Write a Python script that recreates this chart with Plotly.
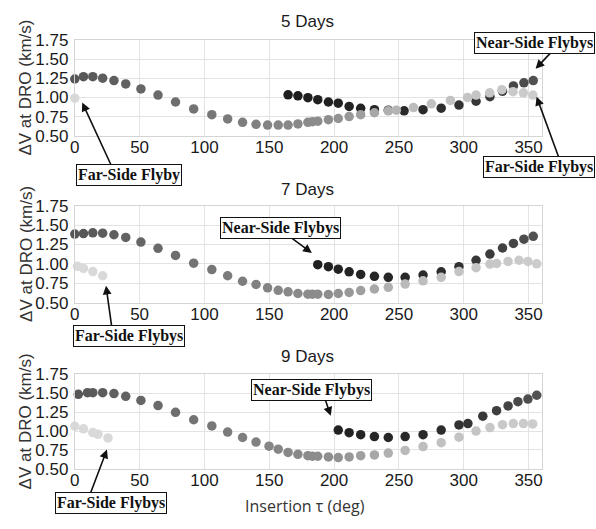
import plotly.graph_objects as go

W, H = 596, 529

# ---------------- data (tau in deg, dV in km/s) ----------------
tau_main = [0, 6.7, 13.9, 21.5, 30.2, 39.3, 51, 64.2, 77.7, 91.7, 105.7, 117.9,
            129.4, 139.8, 148.7, 156.9, 164.5]

# 5 days
d5_primary_tau = tau_main + [172.1, 179.8, 183.3, 187.4, 195.6, 203.2, 211.6, 220.5,
                             231.1, 241.8, 248, 261.2, 275, 289.7, 302.9, 309.5, 320,
                             329.4, 338, 346, 353.3]
d5_primary_dv = [1.24, 1.27, 1.27, 1.25, 1.22, 1.175, 1.11, 1.03, 0.94, 0.85, 0.775,
                 0.72, 0.675, 0.65, 0.64, 0.64, 0.64,
                 0.655, 0.675, 0.683, 0.69, 0.71, 0.725, 0.75, 0.775, 0.80, 0.825,
                 0.833, 0.867, 0.917, 0.96, 1.0, 1.03, 1.06, 1.10, 1.075, 1.06, 1.03]
d5_near_tau = [164.5, 172.1, 179.8, 187.4, 195.6, 203.2, 211.6, 220.5, 231.1, 241.8,
               254, 268.6, 282.6, 296.3, 309.5, 320.2, 329.9, 338.3, 346.4, 353.6]
d5_near_dv = [1.033, 1.02, 0.996, 0.97, 0.94, 0.925, 0.883, 0.858, 0.84, 0.833,
              0.825, 0.84, 0.86, 0.90, 0.95, 1.01, 1.08, 1.15, 1.19, 1.22]
d5_far_tau = [0]
d5_far_dv = [0.99]

# 7 days
d7_primary_tau = tau_main + [172.1, 179.8, 183.3, 187.4, 195.6, 203.2, 211.6, 220.5,
                             231.1, 241.8, 254.8, 268.6, 282.6, 296.3, 309.5, 320.2,
                             325.3, 334.2, 342.6, 349.5, 356.3]
d7_primary_dv = [1.383, 1.39, 1.40, 1.395, 1.375, 1.34, 1.28, 1.20, 1.108, 1.008, 0.925,
                 0.846, 0.775, 0.733, 0.69, 0.658, 0.638,
                 0.617, 0.608, 0.608, 0.608, 0.604, 0.617, 0.63, 0.654, 0.675, 0.696,
                 0.738, 0.78, 0.825, 0.90, 0.95, 0.996, 1.004, 1.03, 1.046, 1.03, 1.0]
d7_near_tau = [187.4, 195.6, 203.2, 211.6, 220.5, 231.1, 241.8, 254.8, 268.6, 282.6,
               296.3, 309.5, 320.2, 329.9, 338.3, 346.4, 353.6]
d7_near_dv = [0.988, 0.963, 0.93, 0.896, 0.863, 0.838, 0.825, 0.825, 0.854, 0.896,
              0.963, 1.046, 1.125, 1.204, 1.263, 1.317, 1.354]
d7_far_tau = [2.1, 6.7, 13.9, 21.5]
d7_far_dv = [0.967, 0.94, 0.90, 0.846]

# 9 days
d9_primary_tau = [2.7, 9.8, 13.9, 21.5, 30.2, 39.3, 51, 64.2, 77.7, 91.7, 105.7, 117.9,
                  129.4, 139.8, 149.8, 156.9, 164.5,
                  172.1, 179.8, 183.3, 187.4, 195.6, 203.2, 211.6, 220.5, 231.1, 241.8,
                  254.8, 268.6, 282.6, 296.3, 309.5, 320.2, 329.9, 338.2, 346, 353.2]
d9_primary_dv = [1.487, 1.508, 1.508, 1.508, 1.496, 1.46, 1.406, 1.338, 1.248, 1.15,
                 1.068, 0.987, 0.915, 0.855, 0.80, 0.76, 0.718,
                 0.692, 0.675, 0.667, 0.667, 0.658, 0.65, 0.658, 0.675, 0.684, 0.709,
                 0.744, 0.795, 0.846, 0.919, 1.0, 1.047, 1.085, 1.10, 1.10, 1.094]
d9_near_tau = [203.2, 211.6, 220.5, 231.1, 241.8, 254.8, 268.6, 282.6, 296.3, 303.2,
               314.7, 325.3, 334.2, 341.8, 349.5, 356.3]
d9_near_dv = [1.013, 0.979, 0.953, 0.927, 0.915, 0.927, 0.953, 1.013, 1.081, 1.10,
              1.197, 1.27, 1.333, 1.389, 1.423, 1.474]
d9_far_tau = [0, 6.7, 13.9, 17.9, 25.6]
d9_far_dv = [1.064, 1.03, 0.98, 0.957, 0.91]

panel_titles = ["5 Days", "7 Days", "9 Days"]
x_ticks = [0, 50, 100, 150, 200, 250, 300, 350]
y_ticks = [0.50, 0.75, 1.00, 1.25, 1.50, 1.75]

panels = [
    (d5_primary_tau, d5_primary_dv, d5_near_tau, d5_near_dv, d5_far_tau, d5_far_dv),
    (d7_primary_tau, d7_primary_dv, d7_near_tau, d7_near_dv, d7_far_tau, d7_far_dv),
    (d9_primary_tau, d9_primary_dv, d9_near_tau, d9_near_dv, d9_far_tau, d9_far_dv),
]

# ---------------- layout geometry (pixels) ----------------
px_left, px_right = 70.5, 542
panel_px = [(32, 131.5), (204, 304.5), (379, 477)]   # (top, bottom)


def px(xp):
    return xp / W


def py(yp):
    return 1 - yp / H


primary_scale = [[0, "#565656"], [0.42, "#858585"], [0.55, "#8e8e8e"],
                 [0.63, "#a4a4a4"], [0.72, "#bdbdbd"], [1, "#cdcdcd"]]
near_scale = [[0, "#1c1c1c"], [0.6, "#2c2c2c"], [0.8, "#3a3a3a"], [1, "#555555"]]

fig = go.Figure()
layout = dict(
    width=W, height=H, margin=dict(l=0, r=0, t=0, b=0),
    paper_bgcolor="white", plot_bgcolor="white", showlegend=False,
    annotations=[],
)

tick_font = dict(family="Liberation Sans, Arial", size=17, color="#1a1a1a")

for i, (pt, pv, nt, nv, ft, fv) in enumerate(panels):
    n = i + 1
    xa = "x" if n == 1 else f"x{n}"
    ya = "y" if n == 1 else f"y{n}"
    top, bot = panel_px[i]

    fig.add_trace(go.Scatter(
        x=nt, y=nv, xaxis=xa, yaxis=ya, mode="markers", cliponaxis=False,
        marker=dict(size=9.5, color=nt, colorscale=near_scale, cmin=160, cmax=360,
                    line=dict(width=0))))
    fig.add_trace(go.Scatter(
        x=pt, y=pv, xaxis=xa, yaxis=ya, mode="markers", cliponaxis=False,
        marker=dict(size=9.5, color=pt, colorscale=primary_scale, cmin=0, cmax=360,
                    line=dict(width=0))))
    fig.add_trace(go.Scatter(
        x=ft, y=fv, xaxis=xa, yaxis=ya, mode="markers", cliponaxis=False,
        marker=dict(size=9.5, color="#d9d9d9", line=dict(width=0))))

    axkey = "xaxis" if n == 1 else f"xaxis{n}"
    aykey = "yaxis" if n == 1 else f"yaxis{n}"
    layout[axkey] = dict(
        domain=[px(px_left), px(px_right)], anchor=ya, range=[0, 360],
        tickvals=x_ticks, ticktext=[str(v) for v in x_ticks],
        showgrid=True, gridcolor="#e3e3e3", gridwidth=1, zeroline=False,
        showline=True, linecolor="#d4d4d4", linewidth=1, mirror=True,
        ticks="", tickfont=tick_font, ticklabelstandoff=-4,
    )
    layout[aykey] = dict(
        domain=[py(bot), py(top)], anchor=xa, range=[0.5, 1.75],
        tickvals=y_ticks, ticktext=[f"{v:.2f}" for v in y_ticks],
        showgrid=True, gridcolor="#e3e3e3", gridwidth=1, zeroline=False,
        showline=True, linecolor="#d4d4d4", linewidth=1, mirror=True,
        ticks="", tickfont=tick_font, ticklabelstandoff=2,
    )
    # panel title
    layout["annotations"].append(dict(
        text=panel_titles[i], xref="paper", yref="paper",
        x=px(306), y=py([12.5, 187, 360.5][i]), xanchor="center", yanchor="middle",
        showarrow=False, font=dict(family="Liberation Sans, Arial", size=17, color="#1a1a1a")))
    # y-axis label
    layout["annotations"].append(dict(
        text="ΔV at DRO (km/s)", xref="paper", yref="paper", textangle=-90,
        x=px(21), y=py((top + bot) / 2), xanchor="center", yanchor="middle",
        showarrow=False, font=dict(family="Liberation Sans, Arial", size=17, color="#333333")))

# x-axis label
layout["annotations"].append(dict(
    text="Insertion τ (deg)", xref="paper", yref="paper",
    x=px(303), y=py(515), xanchor="center", yanchor="middle", showarrow=False,
    font=dict(family="Open Sans", size=16, color="#333333")))

# arrows: (tail_x, tail_y, tip_x, tip_y) in pixels
arrows = [
    (108, 162, 78, 97), (553, 44, 536, 62), (560, 154, 537, 91),
    (287, 236, 310, 253), (108, 330, 102, 287),
    (323, 404, 329, 422), (86, 502, 103, 457),
]
for tx, ty, hx, hy in arrows:
    layout["annotations"].append(dict(
        text=" ", xref="paper", yref="paper", x=px(hx), y=py(hy),
        ax=tx - hx, ay=ty - hy, showarrow=True, arrowhead=2, arrowsize=1.1,
        arrowwidth=1.6, arrowcolor="#111111", standoff=0, startstandoff=0,
        font=dict(size=1)))

# boxed labels: (text, x, y, xanchor)
boxes = [
    ("Far-Side Flyby", 125.5, 172, "center"),
    ("Near-Side Flybys", 595.5, 35, "right"),
    ("Far-Side Flybys", 595.5, 164, "right"),
    ("Near-Side Flybys", 278.5, 227, "center"),
    ("Far-Side Flybys", 125.5, 339, "center"),
    ("Near-Side Flybys", 310, 395, "center"),
    ("Far-Side Flybys", 107, 512.5, "center"),
]
for txt, bx, by, anc in boxes:
    layout["annotations"].append(dict(
        text=f"<b>{txt}</b>", xref="paper", yref="paper", x=px(bx), y=py(by),
        xanchor=anc, yanchor="middle", showarrow=False,
        bordercolor="#111111", borderwidth=1, borderpad=1, bgcolor="white",
        font=dict(family="Liberation Serif, Times New Roman", size=16, color="#111111")))

fig.update_layout(**layout)
fig.write_html("out.html")
